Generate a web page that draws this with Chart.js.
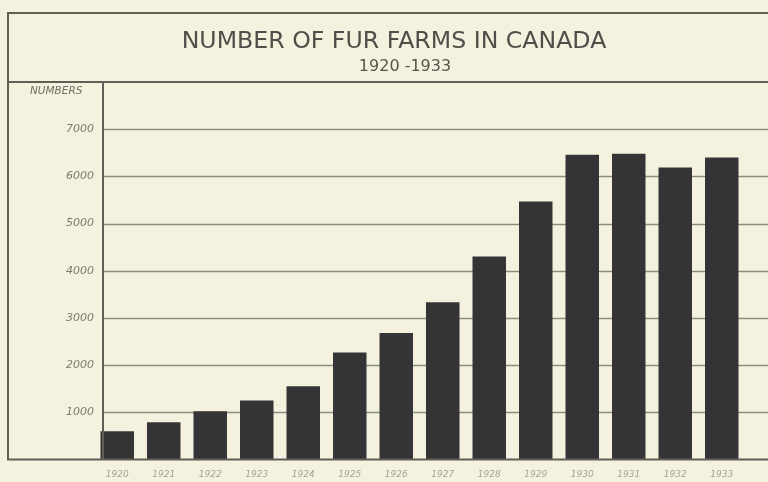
<!DOCTYPE html>
<html>
<head>
<meta charset="utf-8">
<script src="https://cdn.jsdelivr.net/npm/chart.js@4/dist/chart.umd.min.js"></script>
<style>
  html, body { margin: 0; padding: 0; background: #f4f2de; }
  #wrap { width: 768px; height: 482px; }
</style>
</head>
<body>
<div id="wrap"><canvas id="c" width="768" height="482"></canvas></div>
<script>
const years = ['1920','1921','1922','1923','1924','1925','1926','1927','1928','1929','1930','1931','1932','1933'];
const farms = [600, 790, 1020, 1250, 1550, 2270, 2680, 3330, 4300, 5470, 6460, 6480, 6190, 6400];
const yTickValues = [1000, 2000, 3000, 4000, 5000, 6000, 7000];
const titleText = 'NUMBER OF FUR FARMS IN CANADA';
const subtitleText = '1920 -1933';
const yAxisLabel = 'NUMBERS';

const LINE = '#5f5f58';
const GRID = '#8c8c82';

function fitText(ctx, text, family, targetWidth, baseSize) {
  ctx.font = baseSize + 'px ' + family;
  const w = ctx.measureText(text).width;
  return baseSize * targetWidth / w;
}

const framePlugin = {
  id: 'frame',
  beforeDatasetsDraw(chart) {
    const ctx = chart.ctx;
    const y = chart.scales.y;
    const W = chart.width;
    ctx.save();
    ctx.strokeStyle = GRID;
    ctx.lineWidth = 1.3;
    yTickValues.forEach(v => {
      const py = Math.round(y.getPixelForValue(v)) + 0.5;
      ctx.beginPath();
      ctx.moveTo(103, py);
      ctx.lineTo(W, py);
      ctx.stroke();
    });
    ctx.restore();
  },
  afterDraw(chart) {
    const ctx = chart.ctx;
    const y = chart.scales.y;
    const W = chart.width;
    const top = y.getPixelForValue(8000);
    const base = y.getPixelForValue(0);
    ctx.save();
    ctx.strokeStyle = LINE;
    ctx.lineWidth = 2;
    ctx.beginPath();
    ctx.moveTo(8, 13); ctx.lineTo(W, 13);
    ctx.moveTo(8, 12); ctx.lineTo(8, base + 1);
    ctx.moveTo(8, top); ctx.lineTo(W, top);
    ctx.moveTo(103, top); ctx.lineTo(103, base);
    ctx.moveTo(8, base); ctx.lineTo(W, base);
    ctx.stroke();

    // title and subtitle
    const fam = '"DejaVu Sans"';
    const tSize = fitText(ctx, titleText, fam, 425, 24);
    ctx.font = tSize + 'px ' + fam;
    ctx.fillStyle = '#4f4f4a';
    ctx.textAlign = 'center';
    ctx.textBaseline = 'alphabetic';
    ctx.fillText(titleText, 394, 48);
    ctx.font = '16px ' + fam;
    ctx.fillStyle = '#55554f';
    ctx.fillText(subtitleText, 405, 71);

    ctx.fillStyle = '#6e6e68';
    ctx.font = 'italic 10.5px ' + fam;
    ctx.textAlign = 'left';
    ctx.textBaseline = 'middle';
    ctx.fillText(yAxisLabel, 30, 91);
    ctx.restore();
  }
};

new Chart(document.getElementById('c'), {
  type: 'bar',
  data: {
    labels: years,
    datasets: [{
      data: farms,
      backgroundColor: '#343437',
      borderWidth: 0,
      barPercentage: 0.72,
      categoryPercentage: 1.0
    }]
  },
  options: {
    responsive: false,
    animation: false,
    devicePixelRatio: 1,
    layout: { padding: { left: 0, right: 23, top: 82, bottom: 0 } },
    plugins: {
      legend: { display: false },
      tooltip: { enabled: false },
      title: { display: false }
    },
    scales: {
      x: {
        offset: true,
        grid: { display: false, drawTicks: false },
        border: { display: false },
        ticks: {
          color: '#a3a396',
          font: { family: '"DejaVu Sans"', size: 9, style: 'italic' },
          padding: 10,
          maxRotation: 0,
          autoSkip: false
        },
        afterFit(scale) { scale.height = 22.5; }
      },
      y: {
        min: 0,
        max: 8000,
        grid: { display: false, drawTicks: false },
        border: { display: false },
        ticks: {
          stepSize: 1000,
          color: '#7a7a72',
          font: { family: '"DejaVu Sans"', size: 11, style: 'italic' },
          padding: 0,
          callback: (v) => (yTickValues.includes(v) ? String(v) : '')
        },
        afterFit(scale) { scale.width = 94; }
      }
    }
  },
  plugins: [framePlugin]
});
</script>
</body>
</html>
